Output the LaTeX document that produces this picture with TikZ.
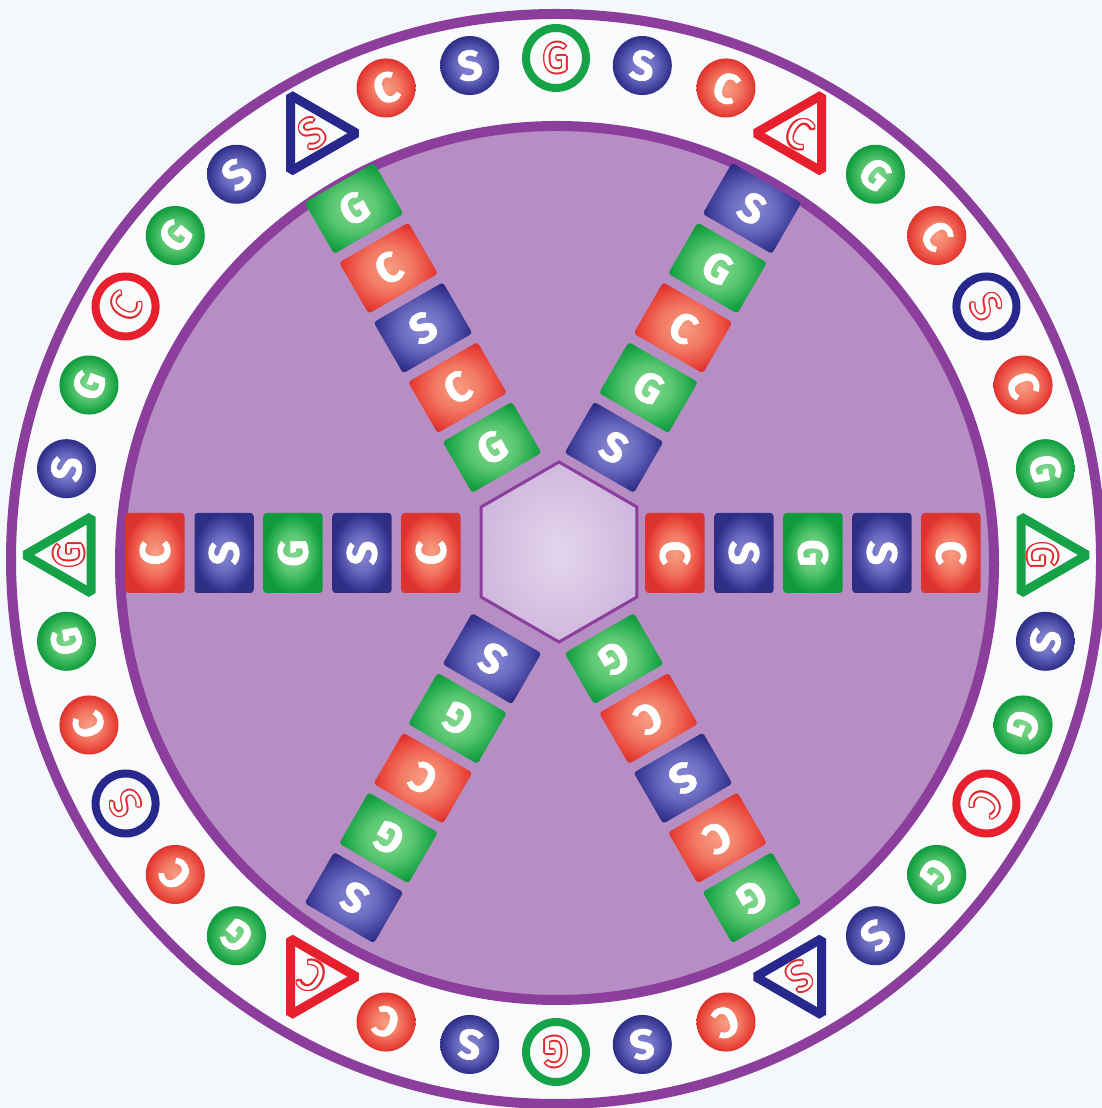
\documentclass[tikz,border=0pt]{standalone}
\usepackage{fontspec}
\newfontfamily\lf{Fira Sans}[BoldFeatures={FakeBold=1.5}]
\usetikzlibrary{shapes.geometric}
\definecolor{bg}{RGB}{245,248,250}
\definecolor{ringw}{RGB}{248,250,252}
\definecolor{purp}{RGB}{139,62,155}
\definecolor{disk}{RGB}{182,142,196}
\definecolor{hexin}{RGB}{228,213,236}
\definecolor{hexout}{RGB}{208,184,222}
\definecolor{cG}{RGB}{22,163,72}
\definecolor{cS}{RGB}{40,40,140}
\definecolor{cC}{RGB}{232,32,45}
\definecolor{oRed}{RGB}{225,40,45}
\pgfdeclareradialshading{sC}{\pgfpoint{0bp}{0bp}}{rgb(0bp)=(0.97,0.62,0.52); rgb(12bp)=(0.95,0.47,0.38); rgb(22bp)=(0.91,0.26,0.22); rgb(25bp)=(0.86,0.20,0.18); rgb(50bp)=(0.86,0.20,0.18)}
\pgfdeclareradialshading{sS}{\pgfpoint{0bp}{0bp}}{rgb(0bp)=(0.55,0.55,0.84); rgb(12bp)=(0.41,0.41,0.75); rgb(22bp)=(0.23,0.23,0.59); rgb(25bp)=(0.18,0.18,0.52); rgb(50bp)=(0.18,0.18,0.52)}
\pgfdeclareradialshading{sG}{\pgfpoint{0bp}{0bp}}{rgb(0bp)=(0.52,0.85,0.57); rgb(12bp)=(0.35,0.78,0.44); rgb(22bp)=(0.11,0.65,0.28); rgb(25bp)=(0.07,0.60,0.24); rgb(50bp)=(0.07,0.60,0.24)}
\newcommand\olet[4]{%
  \foreach \d in {0,45,...,315}{\node[olf, text=oRed, rotate=#3-90] at ([shift={(\d:1.6)}]#2) {#4};}
  \node[olf, text=white, rotate=#3-90] (#1) at (#2) {#4};%
}
\tikzset{
  tile/.style={rectangle, rounded corners=3pt, minimum width=80pt, minimum height=59pt, inner sep=0pt},
  ball/.style={circle, minimum size=59pt, inner sep=0pt},
  ringo/.style={circle, minimum size=60pt, line width=8pt, inner sep=0pt},
  trio/.style={regular polygon, regular polygon sides=3, minimum size=88pt, line width=9pt, line join=bevel, inner sep=0pt},
  lett/.style={text=white, inner sep=0pt, font=\lf\bfseries\fontsize{42}{42}\selectfont},
  bl/.style={text=white, inner sep=0pt, font=\lf\bfseries\fontsize{42}{42}\selectfont},
  olf/.style={inner sep=0pt, font=\lf\fontsize{42}{42}\selectfont},
}
\begin{document}
\begin{tikzpicture}[x=1pt,y=1pt]
\useasboundingbox (0,0) rectangle (1102,1108);
\fill[bg] (0,0) rectangle (1102,1108);
\coordinate (oc) at (556,549);
\coordinate (ic) at (557,545);
\coordinate (rc) at (556,553);
\coordinate (sc) at (553,555);
\coordinate (hc) at (559,556);
\draw[purp, line width=10pt, fill=ringw] (oc) circle[radius=545];
\draw[purp, line width=10pt, fill=disk] (ic) circle[radius=437];
% hexagon
\node[regular polygon, regular polygon sides=6, minimum size=180pt, inner sep=0pt, rotate=30,
      inner color=hexin, outer color=hexout, draw=purp, line width=3pt] (hex) at (hc) {};
% spokes
\foreach \a/\seq [count=\s] in {0/{C,S,G,S,C},60/{S,G,C,G,S},120/{G,C,S,C,G},180/{C,S,G,S,C},240/{S,G,C,G,S},300/{G,C,S,C,G}}{
  \foreach \L [count=\k] in \seq {
    \pgfmathsetmacro\r{122+69*(\k-1)}
    \node[tile, shading=s\L, rotate=\a-90] (t\s-\k) at ([shift={(\a:\r)}]sc) {};
    \node[lett, rotate=\a-90] (tl\s-\k) at (t\s-\k) {\L};
  }
}
% balls
\foreach \a/\L [count=\n] in {80/S,70/C,50/G,40/C,20/C,10/G,-10/S,-20/G,-40/G,-50/S,-70/C,-80/S,-100/S,-110/C,-130/G,-140/C,-160/C,-170/G,170/S,160/G,140/G,130/S,110/C,100/S}{
  \node[ball, shading=s\L] (b\n) at ([shift={(\a:497)}]rc) {};
  \node[bl, rotate=\a-90] (bl\n) at (b\n) {\L};
}
% rings
\foreach \a/\L [count=\n] in {90/G,30/S,-30/C,-90/G,-150/S,150/C}{
  \node[ringo, draw=c\L] (r\n) at ([shift={(\a:497)}]rc) {};
  \olet{rl\n}{r\n}{\a}{\L}
}
% triangles
\foreach \a/\L [count=\n] in {60/C,0/G,-60/S,-120/C,180/G,120/S}{
  \node[trio, draw=c\L, rotate=\a-90] (g\n) at ([shift={(\a:487)}]rc) {};
  \olet{gl\n}{g\n}{\a}{\L}
}
\end{tikzpicture}
\end{document}
